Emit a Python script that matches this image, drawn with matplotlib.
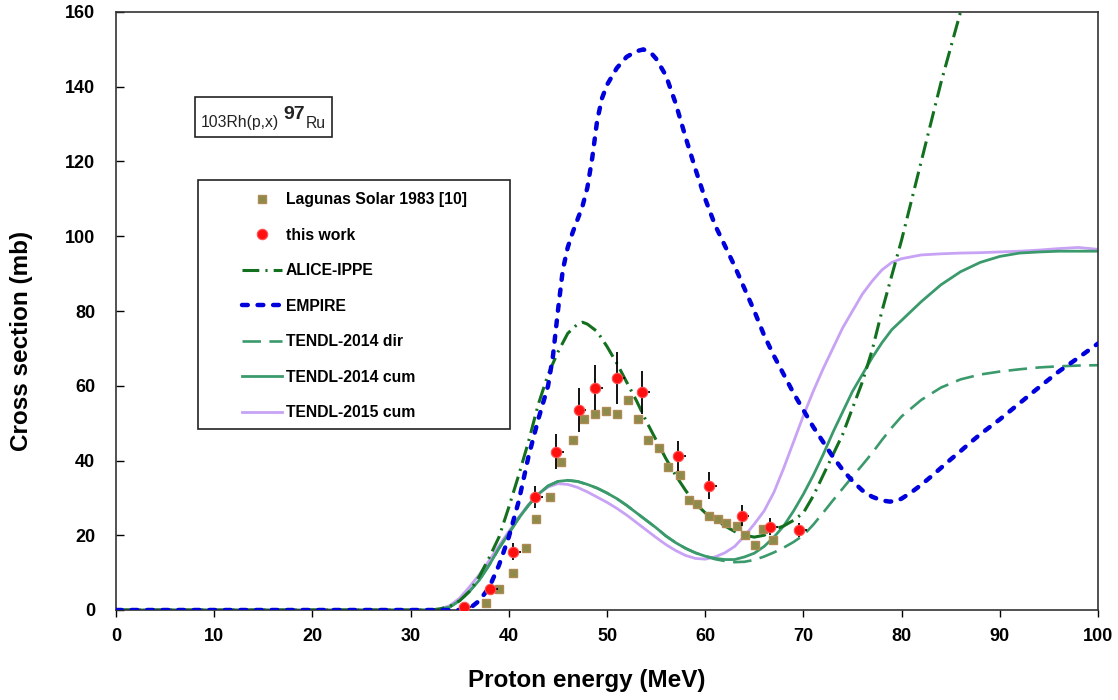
import matplotlib
matplotlib.use("Agg")
import matplotlib.pyplot as plt
from matplotlib.patches import Rectangle

plt.rcParams["font.family"] = ["Liberation Sans", "DejaVu Sans"]

W, H = 1118, 700

# ---- data ---------------------------------------------------------------
# Lagunas Solar 1983 [10]
lag_e = [37.7, 39.0, 40.4, 41.75, 42.8, 44.2, 45.3, 46.5, 47.7, 48.8, 49.9,
         51.0, 52.1, 53.2, 54.2, 55.3, 56.2, 57.4, 58.3, 59.2, 60.4, 61.3,
         62.1, 63.2, 64.05, 65.1, 65.9, 66.9]
lag_xs = [2.0, 5.5, 9.8, 16.5, 24.4, 30.2, 39.5, 45.4, 51.2, 52.4, 53.2,
          52.4, 56.2, 51.2, 45.4, 43.3, 38.3, 36.1, 29.5, 28.3, 25.2, 24.4,
          23.2, 22.4, 20.2, 17.3, 21.6, 18.7]

# this work
tw_e = [35.4, 38.1, 40.4, 42.7, 44.8, 47.1, 48.8, 51.0, 53.6, 57.2, 60.4,
        63.7, 66.6, 69.6]
tw_xs = [0.9, 5.5, 15.6, 30.2, 42.4, 53.6, 59.5, 62.1, 58.2, 41.1, 33.3,
         25.2, 22.3, 21.4]
tw_err = [0.5, 1.0, 2.2, 2.9, 4.6, 5.9, 6.1, 6.9, 5.8, 4.0, 3.6, 2.8, 2.2, 2.0]
tw_eerr_lo = [0.3] * len(tw_e)
tw_eerr_hi = [0.8] * len(tw_e)

# ALICE-IPPE
alice_e = [0, 32, 33, 34, 35, 36, 37, 38, 39, 40, 41, 42, 43, 44, 45, 46, 47,
           47.5, 48, 49, 50, 51, 52, 53, 54, 55, 56, 57, 58, 59, 60, 61, 62,
           63, 64, 65, 66, 67, 68, 69, 70, 71, 72, 73, 74, 75, 76, 77, 78, 79,
           80, 81, 82, 83, 84, 85, 86, 87]
alice_xs = [0, 0, 0.3, 1, 2.5, 5, 9, 14, 19.5, 27.5, 36, 45, 55, 63, 69, 74,
            76.5, 77, 76.5, 74.5, 70.5, 66, 61, 56, 50.5, 45.5, 40.5, 36, 32,
            28.5, 26, 24.3, 22.5, 21, 20, 19.5, 20, 21.5, 22.5, 24, 26, 30.5,
            36, 41.5, 47, 54, 61, 69.5, 80, 89.5, 99, 109.5, 120, 130.5, 141,
            150.5, 160, 170]

# EMPIRE
empire_e = [0, 35, 36, 37, 38, 39, 40, 41, 42, 43, 44, 44.5, 45, 45.5, 46,
            46.5, 47, 47.5, 48, 48.5, 49, 49.5, 50, 51, 52, 53, 53.7, 54.5,
            55, 56, 57, 58, 59, 60, 61, 62, 63, 64, 65, 66, 67, 68, 69, 70,
            71, 72, 73, 74, 75, 76, 77, 78, 78.8, 79.5, 80, 81, 82, 83, 84,
            85, 86, 87, 88, 89, 90, 92, 94, 96, 98, 100]
empire_xs = [0, 0, 0.4, 2.5, 6, 12, 19.5, 29, 41, 51, 60, 68, 80, 91, 97, 101,
             104.5, 108, 113, 121, 131, 137, 140.5, 145, 148, 149.5, 150, 149,
             147.5, 143, 135.5, 126.5, 118, 110, 103, 97.5, 92, 86, 80, 73.5,
             68, 63, 58, 53.5, 49, 45, 41, 37.5, 34.5, 32, 30.3, 29.3, 29,
             29.2, 29.8, 31.5, 33.5, 35.7, 38, 40.3, 42.5, 44.8, 47, 49, 51,
             55.3, 59.6, 63.8, 67.5, 71.3]

# TENDL energies (shared grid)
tendl_e = [0, 30, 32, 33, 34, 35, 36, 37, 38, 39, 40, 41, 42, 43, 44, 45, 46,
           47, 48, 49, 50, 51, 52, 53, 54, 55, 56, 57, 58, 59, 60, 61, 62, 63,
           64, 65, 66, 67, 68, 69, 70, 71, 72, 73, 74, 75, 76, 77, 78, 79, 80,
           82, 84, 86, 88, 90, 92, 94, 96, 98, 100]
t14dir_xs = [0, 0, 0, 0.2, 0.8, 2.5, 5, 8, 12, 16.5, 20.5, 24.5, 28, 31, 33.2,
             34.4, 34.7, 34.4, 33.6, 32.6, 31.3, 29.8, 28, 26, 24, 22, 19.8,
             18, 16.5, 15.3, 14.4, 13.6, 13.1, 12.8, 12.9, 13.4, 14.3, 15.4,
             16.7, 18.2, 20, 22.8, 26, 29.3, 32.5, 35.7, 38.8, 42, 45.5, 48.8,
             51.8, 56.2, 59.5, 61.7, 63, 63.8, 64.4, 64.9, 65.2, 65.4, 65.5]
t14cum_xs = [0, 0, 0, 0.2, 0.8, 2.5, 5, 8, 12, 16.5, 20.5, 24.5, 28, 31, 33.2,
             34.4, 34.7, 34.4, 33.6, 32.6, 31.3, 29.8, 28, 26, 24, 22, 19.8,
             18, 16.5, 15.3, 14.4, 13.8, 13.5, 13.5, 14.2, 15.2, 17, 19.5,
             22.5, 26.5, 31, 36, 41.5, 47.5, 53, 58.5, 63, 67.5, 71.5, 75,
             77.5, 82.5, 87, 90.5, 93, 94.6, 95.5, 95.8, 96, 96, 96]
t15cum_xs = [0, 0, 0, 0.3, 1.2, 3.2, 6.2, 9.5, 13.2, 17.2, 21, 24.8, 28.2, 31,
             32.9, 33.8, 33.6, 32.8, 31.6, 30.2, 28.8, 27.2, 25.4, 23.4, 21.4,
             19.4, 17.5, 15.9, 14.6, 13.8, 13.6, 14.2, 15.3, 17, 19.8, 23,
             26.5, 31.5, 38, 45, 52, 58.5, 64.5, 70, 75.5, 80, 84.5, 88, 91,
             93, 94, 95, 95.3, 95.5, 95.6, 95.8, 96, 96.3, 96.7, 97, 96.5]

C_ALICE = "#12701f"
C_EMPIRE = "#0000dd"
C_T14 = "#3b9a6c"
C_T15 = "#c8a2f5"

fig = plt.figure(figsize=(W / 100, H / 100), dpi=100)
ax = fig.add_axes([116 / W, 90 / H, 982 / W, 598 / H])

# ---- model curves ----
ax.plot(tendl_e, t15cum_xs, color=C_T15, lw=2.0, zorder=2,
        label="TENDL-2015 cum")
ax.plot(tendl_e, t14cum_xs, color=C_T14, lw=2.0, zorder=2,
        label="TENDL-2014 cum")
ax.plot(tendl_e, t14dir_xs, color=C_T14, lw=1.9, dashes=(7, 3.2), zorder=2,
        label="TENDL-2014 dir")
ax.plot(alice_e, alice_xs, color=C_ALICE, lw=2.2, dashes=(5.5, 2, 0.7, 2),
        zorder=2, label="ALICE-IPPE")
ax.plot(empire_e, empire_xs, color=C_EMPIRE, lw=3.2, dashes=(1.3, 2.2),
        dash_capstyle="round", zorder=3, label="EMPIRE")

# ---- experimental points ----
ax.plot(lag_e, lag_xs, ls="none", marker="s", ms=6, mfc="#8c8b4a",
        mec="#b08a55", mew=1.0, zorder=4, label="Lagunas Solar 1983 [10]")
ax.errorbar(tw_e, tw_xs, yerr=tw_err, xerr=[tw_eerr_lo, tw_eerr_hi],
            fmt="none", ecolor="black", elinewidth=1.3, capsize=0, zorder=5)
ax.plot(tw_e, tw_xs, ls="none", marker="o", ms=7.5, mfc="#ff1010",
        mec="#ff5050", mew=0.8, zorder=6, label="this work")

ax.set_xlim(0, 100)
ax.set_ylim(0, 160)
ax.set_xticks(range(0, 101, 10))
ax.set_yticks(range(0, 161, 20))
ax.tick_params(axis="x", direction="out", length=5, width=1, pad=8,
               labelsize=13, top=False)
ax.tick_params(axis="y", direction="in", length=5.5, width=1, pad=15,
               labelsize=13, right=False)
for lab in ax.get_xticklabels() + ax.get_yticklabels():
    lab.set_fontweight("bold")
for sp in ax.spines.values():
    sp.set_linewidth(1.2)
    sp.set_color("#333333")

ax.set_xlabel("Proton energy (MeV)", fontsize=17.5, fontweight="bold")
ax.set_ylabel("Cross section (mb)", fontsize=17.5, fontweight="bold")
ax.xaxis.set_label_coords((587 - 116) / 982, (610 - 669) / 598)
ax.yaxis.set_label_coords((33 - 116) / 982, (610 - 341) / 598)

# ---- legend in a framed box ----
order = ["Lagunas Solar 1983 [10]", "this work", "ALICE-IPPE", "EMPIRE",
         "TENDL-2014 dir", "TENDL-2014 cum", "TENDL-2015 cum"]
hmap = dict(zip(*ax.get_legend_handles_labels()[::-1]))
leg = ax.legend([hmap[k] for k in order], order, loc="upper left",
                bbox_to_anchor=(242 / W, 1 - 192 / H),
                bbox_transform=fig.transFigure, frameon=False,
                prop={"size": 11.3, "weight": "bold"}, labelspacing=1.31,
                handlelength=2.55, handletextpad=0.25, borderpad=0,
                borderaxespad=0, numpoints=1)
leg.set_zorder(8)
ax.add_patch(Rectangle((198 / W, 1 - 429 / H), 312 / W, 249 / H,
                       transform=fig.transFigure, facecolor="white",
                       edgecolor="#222222", lw=1.2, zorder=7, clip_on=False))

# ---- reaction label box ----
ax.add_patch(Rectangle((195 / W, 1 - 137 / H), 137 / W, 40 / H,
                       transform=fig.transFigure, facecolor="white",
                       edgecolor="#222222", lw=1.2, zorder=7, clip_on=False))
ax.text(201 / W, 1 - 127 / H, "103Rh(p,x)", transform=fig.transFigure,
        fontsize=11.3, va="baseline", ha="left", color="#222222", zorder=9)
ax.text(283 / W, 1 - 119 / H, "97", transform=fig.transFigure,
        fontsize=14, fontweight="bold", va="baseline", ha="left",
        color="#222222", zorder=9)
ax.text(306 / W, 1 - 128 / H, "Ru", transform=fig.transFigure,
        fontsize=11.3, va="baseline", ha="left", color="#222222", zorder=9)

fig.savefig("out.png", dpi=100)
